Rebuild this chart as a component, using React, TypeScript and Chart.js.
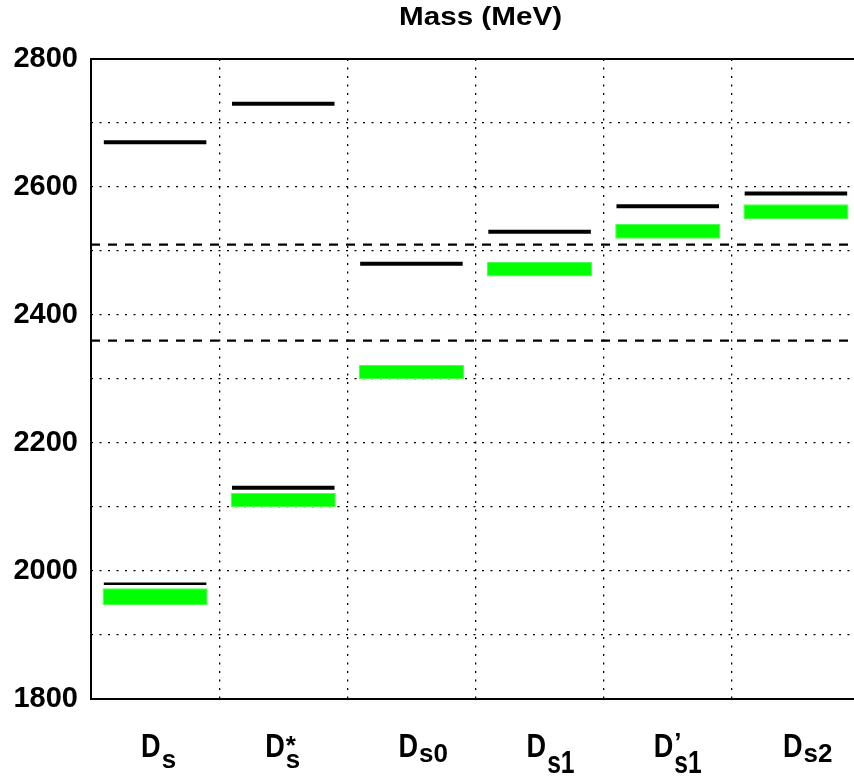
import React, { useEffect, useRef } from 'react';
import { Chart, registerables } from 'chart.js';

Chart.register(...registerables);

const FONT = '"Liberation Sans", Arial, Helvetica, sans-serif';
const TITLE = 'Mass (MeV)';

// categories (x labels): D with subscript / superscript parts
const categories = ['Ds', 'Ds*', 'Ds0', 'Ds1', "Ds1'", 'Ds2'];
const labelMain = 'D';
const labelSub = ['s', 's', 's0', 's1', 's1', 's2'];
const labelSup = ['', '*', '', '', '\u2019', ''];

// black level lines (MeV)
const upperLevels = [2670, 2730, 2480, 2530, 2570, 2590];
const lowerLevels = [1980, 2130, null, null, null, null];

// green bands (MeV)
const bandLow = [1947, 2100, 2300, 2460, 2519, 2550];
const bandHigh = [1973, 2122, 2322, 2483, 2542, 2573];

// dashed threshold lines (MeV)
const thresholds = [2510, 2360];

// y axis
const yMin = 1800;
const yMax = 2800;
const yStep = 100;
const yLabelEvery = 200;

// styles (not data)
const upperLineWidths = [4, 4, 4, 4, 4, 4];
const lowerLineWidths = [2.5, 4, 4, 4, 4, 4];
const labelShift = [-14, -18, -13, -13, -14, -13];
const subStyle = [
  { dy: 11, sx: 1, sy: 1 },
  { dy: 11, sx: 1, sy: 1 },
  { dy: 5, sx: 1, sy: 1 },
  { dy: 16, sx: 0.95, sy: 1.2 },
  { dy: 16, sx: 0.95, sy: 1.2 },
  { dy: 5, sx: 1, sy: 1 },
];
const supBaseline = [0, 754, 0, 0, 750.5, 0];

const levelSegment = (i: number, v: number) => [
  { x: i + 0.1, y: v },
  { x: i + 0.9, y: v },
];

const framePlugin = {
  id: 'frameAndText',
  afterDraw(chart: any) {
    const { ctx, chartArea } = chart;
    const { left, top, right, bottom } = chartArea;
    ctx.save();
    ctx.strokeStyle = '#000';
    ctx.lineWidth = 2;
    ctx.setLineDash([]);
    ctx.strokeRect(left, top, right - left, bottom - top);

    // title
    ctx.fillStyle = '#000';
    ctx.textBaseline = 'alphabetic';
    ctx.save();
    ctx.font = `bold 26px ${FONT}`;
    ctx.textAlign = 'center';
    ctx.translate((left + right) / 2 + 5, 25);
    ctx.scale(1.14, 1);
    ctx.fillText(TITLE, 0, 0);
    ctx.restore();

    // x labels
    const xs = chart.scales.x;
    const base = bottom + 58;
    labelSub.forEach((sub, i) => {
      const cx = xs.getPixelForValue(i);
      const x0 = cx + labelShift[i];
      ctx.save();
      ctx.textAlign = 'left';
      ctx.font = `bold 33px ${FONT}`;
      const w = ctx.measureText(labelMain).width * 0.82;
      ctx.translate(x0, base);
      ctx.scale(0.82, 1);
      ctx.fillText(labelMain, 0, 0);
      ctx.restore();

      const st = subStyle[i];
      ctx.save();
      ctx.textAlign = 'left';
      ctx.font = `bold 26px ${FONT}`;
      ctx.translate(x0 + w + 1, base + st.dy);
      ctx.scale(st.sx, st.sy);
      ctx.fillText(sub, 0, 0);
      ctx.restore();

      if (labelSup[i]) {
        ctx.save();
        ctx.textAlign = 'left';
        ctx.font = `bold 26px ${FONT}`;
        ctx.fillText(labelSup[i], x0 + w + 1, supBaseline[i]);
        ctx.restore();
      }
    });
    ctx.restore();
  },
};

export default function App() {
  const canvasRef = useRef<HTMLCanvasElement | null>(null);

  useEffect(() => {
    document.body.style.margin = '0';
    const canvas = canvasRef.current;
    if (!canvas) return;

    const datasets: any[] = [];

    thresholds.forEach((t) => {
      datasets.push({
        type: 'line',
        xAxisID: 'x2',
        yAxisID: 'y',
        data: [
          { x: 0, y: t },
          { x: categories.length, y: t },
        ],
        borderColor: '#000',
        borderWidth: 2.3,
        borderDash: [9, 8],
        pointRadius: 0,
        fill: false,
      });
    });

    upperLevels.forEach((v, i) => {
      if (v == null) return;
      datasets.push({
        type: 'line',
        xAxisID: 'x2',
        yAxisID: 'y',
        data: levelSegment(i, v),
        borderColor: '#000',
        borderWidth: upperLineWidths[i],
        borderCapStyle: 'butt',
        pointRadius: 0,
        fill: false,
      });
    });

    lowerLevels.forEach((v, i) => {
      if (v == null) return;
      datasets.push({
        type: 'line',
        xAxisID: 'x2',
        yAxisID: 'y',
        data: levelSegment(i, v),
        borderColor: '#000',
        borderWidth: lowerLineWidths[i],
        borderCapStyle: 'butt',
        pointRadius: 0,
        fill: false,
      });
    });

    datasets.push({
      type: 'bar',
      xAxisID: 'x',
      yAxisID: 'y',
      data: bandLow.map((lo, i) => [lo, bandHigh[i]]),
      backgroundColor: '#00ff00',
      borderColor: '#4dff4d',
      borderWidth: 1,
      borderSkipped: false,
      barPercentage: 0.82,
      categoryPercentage: 1,
      grouped: false,
    });

    const chart = new Chart(canvas, {
      type: 'bar',
      data: { labels: categories, datasets },
      options: {
        responsive: false,
        animation: false,
        devicePixelRatio: 1,
        layout: { padding: { top: 59, right: 2, left: 0, bottom: 0 } },
        plugins: {
          legend: { display: false },
          tooltip: { enabled: false },
          title: { display: false },
        },
        scales: {
          x: {
            type: 'category',
            offset: true,
            grid: { offset: true, color: '#000', lineWidth: 1.3, drawTicks: false },
            border: { display: false, dash: [2, 6.5] },
            ticks: { display: false },
            afterFit: (s: any) => {
              s.height = 82;
            },
          },
          x2: {
            type: 'linear',
            display: false,
            offset: false,
            grid: { offset: false },
            min: 0,
            max: categories.length,
          },
          y: {
            type: 'linear',
            min: yMin,
            max: yMax,
            grid: { color: '#000', lineWidth: 1.3, drawTicks: false },
            border: { display: false, dash: [2, 6.5] },
            ticks: {
              stepSize: yStep,
              autoSkip: false,
              padding: 13,
              color: '#000',
              font: { family: FONT, weight: 'bold', size: 29 },
              callback: (v: any) => (Number(v) % yLabelEvery === 0 ? String(v) : ''),
            },
            afterFit: (s: any) => {
              s.width = 91;
            },
          },
        },
      } as any,
      plugins: [framePlugin],
    });

    return () => chart.destroy();
  }, []);

  return (
    <div style={{ width: 854, height: 781, overflow: 'hidden', position: 'relative', background: '#fff' }}>
      <canvas ref={canvasRef} width={862} height={781} style={{ display: 'block' }} />
    </div>
  );
}
